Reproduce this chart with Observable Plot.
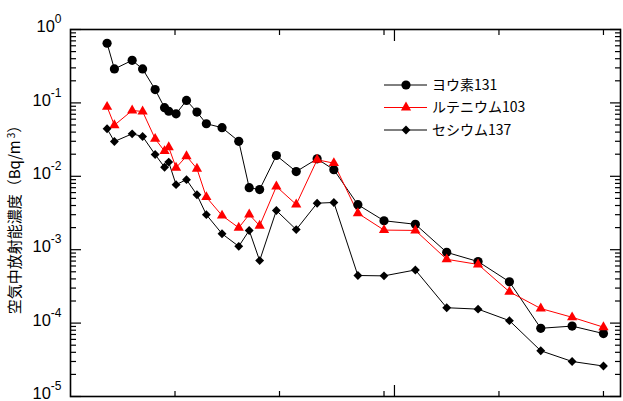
<!DOCTYPE html>
<html><head><meta charset="utf-8">
<script src="https://cdn.jsdelivr.net/npm/d3@7"></script>
<script src="https://cdn.jsdelivr.net/npm/@observablehq/plot@0.6"></script>
<style>
html,body{margin:0;padding:0;background:#fff;}
#chart{position:relative;width:623px;height:401px;}
</style></head><body><div id="chart"></div>
<script>
// sampling day (days from start of axis)
const days = [3.5,4.2,5.9,6.9,8.1,9.0,9.4,10.1,11.1,12.1,13.0,14.5,16.1,17.1,18.1,19.7,21.6,23.6,25.2,27.5,30,33,36,39,42,45,48,51];
// Bq/m3
const iodine131 = [0.65,0.29,0.38,0.29,0.152,0.086,0.077,0.071,0.108,0.075,0.052,0.046,0.030,0.0070,0.0066,0.0192,0.0116,0.0173,0.0123,0.0041,0.00248,0.00222,0.00092,0.00069,0.000365,0.000085,0.000091,0.000072];
const ruthenium103 = [0.0885,0.0497,0.0788,0.0764,0.0324,0.0220,0.0249,0.0131,0.0188,0.0127,0.0052,0.00292,0.00199,0.00302,0.00212,0.00726,0.00413,0.0168,0.0151,0.00314,0.00185,0.00183,0.00074,0.00063,0.000267,0.000158,0.000120,0.000088];
const cesium137 = [0.0444,0.0298,0.0379,0.0349,0.0198,0.0133,0.0156,0.0077,0.0090,0.0056,0.0030,0.00165,0.00111,0.00183,0.00071,0.00342,0.00188,0.0043,0.0044,0.000445,0.00044,0.00053,0.000162,0.000155,0.000108,0.000042,0.000030,0.000026];
const seriesNames = ["ヨウ素131","ルテニウム103","セシウム137"];
const yMajorTicks = [1,0.1,0.01,0.001,0.0001,0.00001];
const yExponents = ["0","-1","-2","-3","-4","-5"];
const xTicks = [10,20,30,41,51];
const xMonthTicks = [31];
const yLabelMain = "空気中放射能濃度（Bq/m";
const yLabelSup = "3";
const yLabelEnd = "）";

const yMinorTicks = [];
for (let e = -5; e < 0; e++) for (let k = 2; k <= 9; k++) yMinorTicks.push(+(k * Math.pow(10, e)).toPrecision(3));

const rows = (vals) => days.map((d, i) => ({day: d, value: vals[i]}));
const iod = rows(iodine131), ru = rows(ruthenium103), cs = rows(cesium137);

const FONT = "'Liberation Sans', 'Noto Sans CJK JP', Arial, sans-serif";
const axisOpts = {label: null, tickFormat: () => "", stroke: "black", strokeWidth: 1.2};

const plot = Plot.plot({
  width: 623, height: 401,
  marginLeft: 70, marginRight: 3, marginTop: 29, marginBottom: 5,
  style: {fontFamily: FONT, fontSize: "16.5px", color: "black", background: "white"},
  x: {domain: [0, 52.63]},
  y: {type: "log", domain: [1e-5, 1]},
  marks: [
    Plot.axisY({anchor: "left", ticks: yMajorTicks, tickSize: 11, dx: 11, ...axisOpts}),
    Plot.axisY({anchor: "left", ticks: yMinorTicks, tickSize: 6, dx: 6, ...axisOpts}),
    Plot.axisY({anchor: "right", ticks: yMajorTicks, tickSize: 11, dx: -11, ...axisOpts}),
    Plot.axisY({anchor: "right", ticks: yMinorTicks, tickSize: 6, dx: -6, ...axisOpts}),
    Plot.axisX({anchor: "bottom", ticks: xTicks, tickSize: 5, dy: -5, ...axisOpts}),
    Plot.axisX({anchor: "bottom", ticks: xMonthTicks, tickSize: 11, dy: -11, ...axisOpts}),
    Plot.axisX({anchor: "top", ticks: xTicks, tickSize: 5, dy: 5, ...axisOpts}),
    Plot.axisX({anchor: "top", ticks: xMonthTicks, tickSize: 11, dy: 11, ...axisOpts}),
    Plot.text(yMajorTicks, {y: d => d, frameAnchor: "left", dx: -9, dy: -2.5, textAnchor: "end", fill: "black",
      text: (d, i) => "10^" + yExponents[i]}),
    Plot.line(iod, {x: "day", y: "value", stroke: "black", strokeWidth: 1}),
    Plot.line(ru, {x: "day", y: "value", stroke: "#ff0000", strokeWidth: 1}),
    Plot.line(cs, {x: "day", y: "value", stroke: "black", strokeWidth: 1}),
    Plot.dot(iod, {x: "day", y: "value", r: 4.6, fill: "black", symbol: "circle"}),
    Plot.dot(ru, {x: "day", y: "value", r: 3.8, fill: "#ff0000", symbol: "triangle"}),
    Plot.dot(cs, {x: "day", y: "value", r: 4.0, fill: "black", symbol: "diamond2"}),
    Plot.frame({stroke: "black", strokeWidth: 1.6})
  ]
});

// superscript exponents on tick labels
plot.querySelectorAll("text").forEach(t => {
  const m = /^10\^(-?\d)$/.exec(t.textContent);
  if (m) {
    t.textContent = "10";
    const ts = document.createElementNS("http://www.w3.org/2000/svg", "tspan");
    ts.setAttribute("font-size", "12");
    ts.setAttribute("dy", "-9");
    ts.textContent = m[1];
    t.appendChild(ts);
  }
});

const svg = d3.select(plot);
// y-axis title
const yl = svg.append("text")
  .attr("transform", "translate(20,216) rotate(-90)")
  .attr("text-anchor", "middle")
  .attr("font-family", "'Noto Sans CJK JP', 'Liberation Sans', sans-serif")
  .attr("font-size", 15)
  .attr("fill", "black");
yl.append("tspan").text(yLabelMain);
yl.append("tspan").attr("font-size", 10).attr("dy", -5).attr("dx", 2).text(yLabelSup);
yl.append("tspan").attr("dy", 5).text(yLabelEnd);

// legend
const legendColors = ["black", "#ff0000", "black"];
const legendSymbols = [d3.symbolCircle, d3.symbolTriangle, d3.symbolDiamond2];
const legendSizes = [Math.PI * 4.6 * 4.6, Math.PI * 3.8 * 3.8, Math.PI * 4.0 * 4.0];
const lg = svg.append("g").attr("transform", "translate(384,85)");
seriesNames.forEach((name, i) => {
  const g = lg.append("g").attr("transform", `translate(0,${i * 22.5})`);
  g.append("line").attr("x1", 0).attr("x2", 43).attr("stroke", legendColors[i]).attr("stroke-width", 1);
  g.append("path").attr("transform", "translate(22,0)")
    .attr("d", d3.symbol(legendSymbols[i], legendSizes[i])()).attr("fill", legendColors[i]);
  g.append("text").attr("x", 48).attr("dy", "0.35em").attr("text-anchor", "start")
    .attr("font-family", "'Noto Sans CJK JP', 'Liberation Sans', sans-serif")
    .attr("font-size", 14).attr("fill", "black").text(name);
});

document.getElementById("chart").appendChild(plot);
</script>
</body></html>
